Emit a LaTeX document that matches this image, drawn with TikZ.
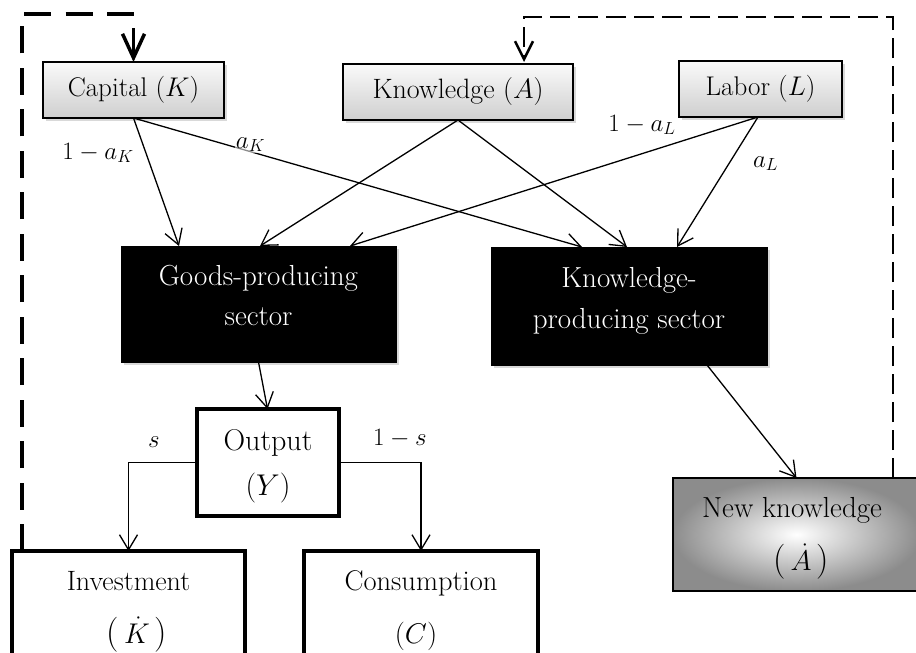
\RequirePackage{fix-cm}
\documentclass[tikz,border=0pt]{standalone}
\usetikzlibrary{arrows.meta,shadows}
\newcommand{\fs}[1]{\fontsize{#1}{#1}\selectfont}
\newcommand{\bigparens}[2]{{\fs{#1}(}\,#2\,{\fs{#1})}}
\begin{document}
\begin{tikzpicture}[x=1pt,y=-1pt,
  every node/.style={font=\fs{28.5}, inner sep=0pt, outer sep=0pt},
  graybox/.style={draw=black, line width=1.5pt, top color=gray!4, bottom color=gray!38,
    drop shadow={shadow xshift=2.5pt,shadow yshift=-2.5pt,opacity=0.3}},
  blackbox/.style={fill=black, draw=black,
    drop shadow={shadow xshift=2.5pt,shadow yshift=-2.5pt,opacity=0.3}},
  thickbox/.style={draw=black, line width=4pt, fill=white},
  nkbox/.style={draw=black, line width=1.5pt, inner color=white, outer color=gray!90},
  txt/.style={anchor=base},
  wtxt/.style={anchor=base, text=white, font=\fs{29}},
  lbl/.style={anchor=base, font=\fs{25}},
  lblw/.style={lbl, fill=white, fill opacity=0.55, text opacity=1, inner sep=1pt},
  arr/.style={line width=1.3pt, -{Straight Barb[length=15pt,width=18pt,line width=1.3pt]}},
  dashL/.style={line width=3.5pt, dash pattern=on 27pt off 14.47pt},
  solidL/.style={line width=3.5pt, -{Straight Barb[length=24pt,width=22pt,line width=3.5pt]}},
  dashR/.style={line width=2.5pt, dash pattern=on 20pt off 8pt,
    -{Straight Barb[length=18pt,width=18pt,line width=2.5pt]}}
]
\useasboundingbox (0,0) rectangle (916,653);
\clip (0,0) rectangle (916,653);

% top boxes
\node[graybox, minimum width=181pt, minimum height=56pt, font=\fs{27}] (cap) at (133.5,90) {Capital ($K$)};
\node[graybox, minimum width=230pt, minimum height=56pt, font=\fs{28}] (kn) at (458,92) {Knowledge ($A$)};
\node[graybox, minimum width=163pt, minimum height=56pt, font=\fs{27}] (lab) at (760.5,89) {Labor ($L$)};

% sectors
\node[blackbox, minimum width=275pt, minimum height=116pt] (goods) at (258.5,304) {};
\node[wtxt] (goodsA) at (258.5,285) {Goods-producing};
\node[wtxt] (goodsB) at (258.5,325) {sector};
\node[blackbox, minimum width=276pt, minimum height=118pt] (kp) at (629,306) {};
\node[wtxt] (kpA) at (629,287) {Knowledge-};
\node[wtxt] (kpB) at (629,328) {producing sector};

% output
\node[thickbox, minimum width=142pt, minimum height=107pt] (out) at (268,462.5) {};
\node[txt, font=\fs{30}] (outA) at (268,450) {Output};
\node[txt, font=\fs{30}] (outB) at (268,495) {($Y$)};

% investment / consumption
\node[thickbox, minimum width=233pt, minimum height=160pt] (inv) at (128.5,631) {};
\node[txt, font=\fs{28}] (invA) at (128.5,590) {Investment};
\node[txt] (invB) at (137,643) {\bigparens{35}{$\dot{K}$}};
\node[thickbox, minimum width=234pt, minimum height=160pt] (con) at (421,631) {};
\node[txt] (conA) at (421,590) {Consumption};
\node[txt] (conB) at (416,643) {($C$)};

% new knowledge
\node[nkbox, minimum width=247pt, minimum height=113pt] (nk) at (796.5,534.5) {};
\node[txt, font=\fs{29}] (nkA) at (792,517) {New knowledge};
\node[txt] (nkB) at (801,570) {\bigparens{35}{$\dot{A}$}};

% arrows
\draw[arr] (cap.south) -- ([xshift=-79.5pt]goods.north);
\draw[arr] (cap.south) -- ([xshift=-47pt]kp.north);
\draw[arr] (kn.south) -- ([xshift=1.5pt]goods.north);
\draw[arr] (kn.south) -- ([xshift=-2pt]kp.north);
\draw[arr] ([xshift=-2.5pt]lab.south) -- ([xshift=91.5pt]goods.north);
\draw[arr] ([xshift=-2.5pt]lab.south) -- ([xshift=48pt]kp.north);
\draw[arr] (goods.south) -- ([xshift=-0.5pt]out.north);
\draw[arr] (out.west) -| (inv.north);
\draw[arr] (out.east) -| (con.north);
\draw[arr] ([xshift=78pt]kp.south) -- (nk.north);

% labels
\node[lbl] (lk1) at (98,159) {$1-a_K$};
\node[lblw] (lk2) at (250.5,148) {$a_K$};
\node[lblw] (ll1) at (642,131) {$1-a_L$};
\node[lblw] (ll2) at (765.5,167) {$a_L$};
\node[lbl] (ls) at (154,447) {$s$};
\node[lbl] (l1s) at (400,445) {$1-s$};

% feedback loops
\coordinate (dl) at ([xshift=10pt]inv.north west);
\coordinate (tl) at ([yshift=48pt]cap.north);
\draw[dashL] (dl) |- (tl);
\draw[solidL] ([yshift=34pt]cap.north) -- (cap.north);
\draw[dashR] ([xshift=96.5pt]nk.north) |- ([xshift=66pt,yshift=47pt]kn.north) -- ([xshift=66pt,yshift=2pt]kn.north);
\end{tikzpicture}
\end{document}
